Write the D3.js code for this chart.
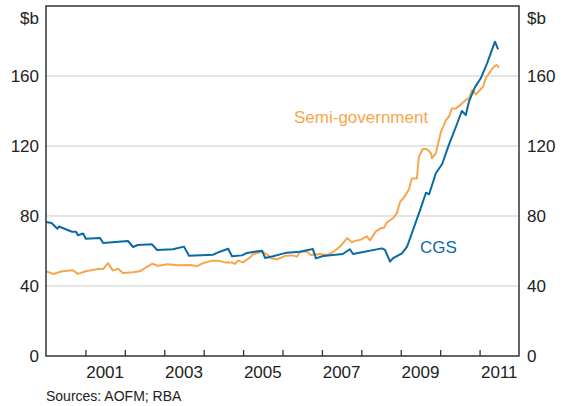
<!DOCTYPE html>
<html>
<head>
<meta charset="utf-8">
<script src="https://cdn.jsdelivr.net/npm/d3@7"></script>
<style>
  html, body { margin: 0; padding: 0; background: #fff; }
  svg { display: block; font-family: "Liberation Sans", Arial, sans-serif; }
</style>
</head>
<body>
<svg id="chart" width="568" height="406"></svg>
<script>
// Decimal-year dates and values ($b)
const cgsDates = [2000.0, 2000.14, 2000.29, 2000.33, 2000.66, 2000.76, 2000.81, 2000.94, 2001.01, 2001.37, 2001.45,
  2002.08, 2002.21, 2002.33, 2002.69, 2002.82, 2003.22, 2003.50, 2003.63, 2004.24, 2004.41, 2004.62, 2004.72,
  2004.97, 2005.10, 2005.48, 2005.56, 2005.76, 2006.01, 2006.11, 2006.44, 2006.77, 2006.85, 2007.03, 2007.53,
  2007.71, 2007.79, 2008.52, 2008.60, 2008.73, 2008.80, 2009.03, 2009.16, 2009.28, 2009.49, 2009.64, 2009.72,
  2009.89, 2010.05, 2010.22, 2010.40, 2010.55, 2010.65, 2010.73, 2010.88, 2011.03, 2011.19, 2011.39, 2011.47];
const cgsValues = [76.6, 76, 72.7, 74, 71, 71, 69, 70, 67, 67.4, 64.6,
  65.7, 62.3, 63.4, 63.8, 60.6, 61, 62.5, 57.3, 57.9, 59.6, 61.3, 57,
  57.5, 58.9, 60.2, 56, 57, 58.5, 59, 59.6, 61.1, 55.8, 57.1, 58.3,
  61, 58.3, 61.5, 60.6, 53.9, 55.8, 58.7, 62.5, 70, 83.4, 93.3, 92.4,
  104.4, 109.7, 120.6, 131, 140, 137.7, 145.3, 153.5, 158.7, 167.2, 179.6, 175.2];

const semiDates = [2000.0, 2000.18, 2000.41, 2000.68, 2000.81, 2001.01, 2001.32, 2001.45, 2001.57, 2001.70, 2001.83,
  2001.95, 2002.21, 2002.38, 2002.56, 2002.69, 2002.84, 2003.09, 2003.35, 2003.65, 2003.83, 2003.98, 2004.21,
  2004.36, 2004.54, 2004.72, 2004.79, 2004.87, 2005.00, 2005.18, 2005.25, 2005.48, 2005.63, 2005.71, 2005.86,
  2006.06, 2006.24, 2006.37, 2006.44, 2006.62, 2006.72, 2006.95, 2007.13, 2007.31, 2007.48, 2007.64, 2007.76,
  2007.86, 2007.99, 2008.14, 2008.22, 2008.37, 2008.50, 2008.57, 2008.65, 2008.80, 2008.90, 2008.98, 2009.08,
  2009.21, 2009.28, 2009.41, 2009.46, 2009.56, 2009.66, 2009.77, 2009.79, 2009.89, 2010.02, 2010.15, 2010.22,
  2010.30, 2010.40, 2010.53, 2010.65, 2010.73, 2010.81, 2010.91, 2011.03, 2011.09, 2011.16, 2011.24, 2011.36,
  2011.44, 2011.49];
const semiValues = [48.4, 46.9, 48.4, 49, 46.9, 48.4, 49.7, 49.7, 53.1, 48.8, 49.9,
  47.4, 47.8, 48.4, 50.9, 52.7, 51.6, 52.4, 51.8, 52, 51.4, 53, 54.5,
  54.5, 53.5, 53.5, 52.6, 54.5, 53.5, 56.4, 58.1, 59.6, 57.7, 55.8, 55.3,
  57.1, 57.5, 56.8, 59.6, 59.6, 57.7, 58.3, 57.7, 59.8, 63, 67.4, 65,
  65.9, 66.5, 68.4, 66.1, 71.2, 73.1, 73.1, 76.4, 78.7, 81.5, 88, 90.5,
  95.3, 101.5, 101.5, 113.9, 118.3, 118.3, 115.8, 113, 115.8, 128.2, 134.9, 136.7,
  141.5, 141.5, 143.8, 146.3, 147.2, 152, 149.5, 152.4, 153.9, 159, 161.5, 165.3,
  166.3, 164.7];

const yTicks = [0, 40, 80, 120, 160];
const xTickYears = [2001, 2002, 2003, 2004, 2005, 2006, 2007, 2008, 2009, 2010, 2011];
const xLabelYears = [2001, 2003, 2005, 2007, 2009, 2011];
const unitLabel = "$b";
const seriesNames = ["Semi-government", "CGS"];
const sourceText = "Sources: AOFM; RBA";

const colors = { cgs: "#0a6aa3", semi: "#f8a64c", axis: "#333333", grid: "#cccccc", text: "#222222" };

const svg = d3.select("#chart");
const m = { left: 46, right: 519, top: 6, bottom: 356 };

const x = d3.scaleLinear().domain([2000, 2012]).range([m.left, m.right]);
const y = d3.scaleLinear().domain([0, 200]).range([m.bottom, m.top]);

// gridlines
svg.append("g").selectAll("line").data(yTicks.filter(d => d > 0)).join("line")
  .attr("x1", m.left).attr("x2", m.right)
  .attr("y1", d => y(d)).attr("y2", d => y(d))
  .attr("stroke", colors.grid).attr("stroke-width", 1.2);

// series lines
const line = d3.line().x(d => x(d[0])).y(d => y(d[1]));
svg.append("path").datum(d3.zip(semiDates, semiValues))
  .attr("d", line).attr("fill", "none").attr("stroke", colors.semi).attr("stroke-width", 2)
  .attr("stroke-linejoin", "round");
svg.append("path").datum(d3.zip(cgsDates, cgsValues))
  .attr("d", line).attr("fill", "none").attr("stroke", colors.cgs).attr("stroke-width", 2)
  .attr("stroke-linejoin", "round");

// frame
svg.append("rect").attr("x", m.left).attr("y", m.top)
  .attr("width", m.right - m.left).attr("height", m.bottom - m.top)
  .attr("fill", "none").attr("stroke", colors.axis).attr("stroke-width", 1.5);

// x axis ticks (inward) via d3 axis
const xAxis = svg.append("g").attr("transform", `translate(0,${m.bottom})`)
  .call(d3.axisBottom(x).tickValues(xTickYears).tickSizeInner(-6).tickSizeOuter(0).tickFormat(""));
xAxis.select(".domain").remove();
xAxis.selectAll(".tick line").attr("stroke", colors.axis).attr("stroke-width", 1.3);

// x labels centred in year
svg.append("g").selectAll("text").data(xLabelYears).join("text")
  .attr("x", d => x(d + 0.5)).attr("y", 378)
  .attr("text-anchor", "middle").attr("font-size", 17).attr("fill", colors.text)
  .text(d => d);

// y labels both sides
const yl = d3.axisLeft(y).tickValues(yTicks).tickSize(0).tickPadding(7);
const ylG = svg.append("g").attr("transform", `translate(${m.left},0)`).call(yl);
ylG.select(".domain").remove();
ylG.selectAll("text").attr("font-size", 17).attr("fill", colors.text).attr("font-family", "Liberation Sans, Arial, sans-serif");
const yr = d3.axisRight(y).tickValues(yTicks).tickSize(0).tickPadding(8);
const yrG = svg.append("g").attr("transform", `translate(${m.right},0)`).call(yr);
yrG.select(".domain").remove();
yrG.selectAll("text").attr("font-size", 17).attr("fill", colors.text).attr("font-family", "Liberation Sans, Arial, sans-serif");

// unit labels
svg.append("text").attr("x", 39).attr("y", 24).attr("text-anchor", "end")
  .attr("font-size", 17).attr("fill", colors.text).text(unitLabel);
svg.append("text").attr("x", 527).attr("y", 24).attr("text-anchor", "start")
  .attr("font-size", 17).attr("fill", colors.text).text(unitLabel);

// series labels
svg.append("text").attr("x", 294).attr("y", 123).attr("font-size", 17)
  .attr("fill", colors.semi).text(seriesNames[0]);
svg.append("text").attr("x", 420).attr("y", 253).attr("font-size", 17)
  .attr("fill", colors.cgs).text(seriesNames[1]);

// source
svg.append("text").attr("x", 46).attr("y", 401).attr("font-size", 14)
  .attr("fill", colors.text).text(sourceText);
</script>
</body>
</html>
